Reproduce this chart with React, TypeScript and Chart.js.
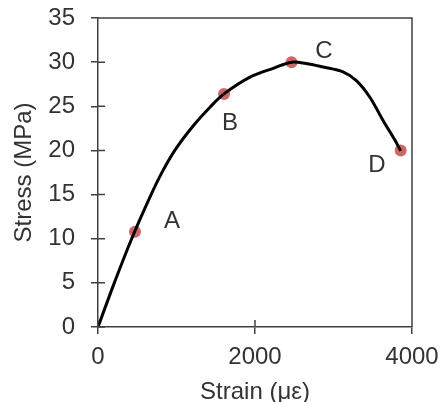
import React, { useEffect, useRef } from "react";
import { Chart, registerables } from "chart.js";

Chart.register(...registerables);

// Stress–strain curve (strain in µε, stress in MPa)
const strain = [0, 208, 429, 666, 820, 985, 1214, 1427, 1605, 1936, 2233, 2467, 2650, 2866, 3121, 3291, 3461, 3631, 3780, 3856];
const stress = [0, 5, 10, 14.8, 17.6, 20.1, 22.8, 24.9, 26.4, 28.3, 29.3, 30.0, 29.85, 29.45, 28.9, 27.9, 26.05, 23.4, 21.2, 19.95];

// Marked points A–D
const pointNames = ["A", "B", "C", "D"];
const pointStrain = [471, 1605, 2465, 3856];
const pointStress = [10.8, 26.4, 30.0, 20.0];

// Label anchor positions (data units)
const labelStrain = [943, 1682, 2879, 3554];
const labelStress = [11.95, 23.1, 31.2, 18.3];

const xTicksMax = 4000;
const yTicksMax = 35;

const FONT = "'Liberation Sans', Arial, sans-serif";
const TEXT = "#333333";
const AXIS = "#404040";

const framePlugin = {
  id: "frameAndLabels",
  afterDatasetsDraw(chart: any) {
    const { ctx, chartArea, scales } = chart;
    const { left, right, top, bottom } = chartArea;
    ctx.save();
    ctx.strokeStyle = AXIS;
    ctx.lineWidth = 1.5;
    ctx.beginPath();
    ctx.moveTo(left, top);
    ctx.lineTo(right, top);
    ctx.lineTo(right, bottom);
    // inner tick marks
    scales.x.ticks.forEach((t: any) => {
      const px = scales.x.getPixelForValue(t.value);
      ctx.moveTo(px, bottom);
      ctx.lineTo(px, bottom - 7);
    });
    scales.y.ticks.forEach((t: any) => {
      const py = scales.y.getPixelForValue(t.value);
      ctx.moveTo(left, py);
      ctx.lineTo(left + 7, py);
    });
    ctx.stroke();
    ctx.fillStyle = TEXT;
    ctx.font = `24px ${FONT}`;
    ctx.textAlign = "center";
    ctx.textBaseline = "middle";
    pointNames.forEach((n, i) => {
      ctx.fillText(n, scales.x.getPixelForValue(labelStrain[i]), scales.y.getPixelForValue(labelStress[i]));
    });
    ctx.restore();
  },
};

export default function App() {
  const ref = useRef<HTMLCanvasElement>(null);
  useEffect(() => {
    document.body.style.margin = "0";
    document.body.style.overflow = "hidden";
    const chart = new Chart(ref.current!, {
      type: "scatter",
      data: {
        datasets: [
          {
            data: strain.map((x, i) => ({ x, y: stress[i] })),
            showLine: true,
            borderColor: "#000000",
            borderWidth: 3,
            pointRadius: 0,
            tension: 0.35,
          } as any,
          {
            data: pointStrain.map((x, i) => ({ x, y: pointStress[i] })),
            backgroundColor: "rgba(198, 78, 75, 0.85)",
            borderWidth: 0,
            pointRadius: 6,
          },
        ],
      },
      options: {
        animation: false,
        responsive: false,
        layout: { padding: { left: 0, right: 34, top: 18, bottom: 0 } },
        plugins: { legend: { display: false }, tooltip: { enabled: false } },
        scales: {
          x: {
            type: "linear",
            min: 0,
            max: xTicksMax,
            ticks: { stepSize: 2000, color: TEXT, font: { family: FONT, size: 24, lineHeight: 1.2 }, padding: 9, maxRotation: 0, callback: (v: any) => String(v) },
            grid: { drawOnChartArea: false, drawTicks: true, tickLength: 7, color: AXIS, lineWidth: 1.5 },
            border: { color: AXIS, width: 1.5 },
            title: { display: true, text: "Strain (με)", color: TEXT, font: { family: FONT, size: 24, lineHeight: 1 }, padding: { top: 0, bottom: -2 } },
            afterFit: (s: any) => { s.height = 75; s.paddingLeft = 0; s.paddingRight = 0; },
          },
          y: {
            type: "linear",
            min: 0,
            max: yTicksMax,
            ticks: { stepSize: 5, color: TEXT, font: { family: FONT, size: 24, lineHeight: 1.2 }, padding: 16, callback: (v: any) => String(v) },
            grid: { drawOnChartArea: false, drawTicks: true, tickLength: 7, color: AXIS, lineWidth: 1.5 },
            border: { color: AXIS, width: 1.5 },
            title: { display: true, text: "Stress (MPa)", color: TEXT, font: { family: FONT, size: 24, lineHeight: 1 }, padding: { top: 12, bottom: 0 } },
            afterFit: (s: any) => { s.width = 98; s.paddingTop = 0; s.paddingBottom = 0; },
          },
        },
      },
      plugins: [framePlugin],
    });
    return () => chart.destroy();
  }, []);
  return (
    <canvas ref={ref} width={446} height={402} style={{ display: "block", width: 446, height: 402 }} />
  );
}
